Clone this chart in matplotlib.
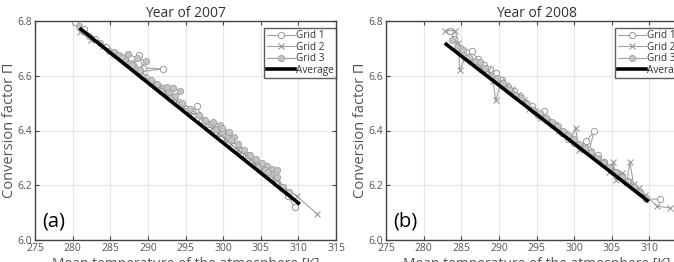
import matplotlib
matplotlib.use('Agg')
import matplotlib.pyplot as plt

plt.rcParams['font.family'] = ['Open Sans', 'DejaVu Sans']

# ---- data : 2007 ----
x07_g1 = [280.3, 281.5, 283.0, 284.5, 285.8, 286.5, 287.2, 288.0, 288.8, 289.4, 292.0, 289.0, 288.2, 289.8,
          290.6, 291.3, 292.2, 293.0, 294.1, 295.0, 295.8, 296.5, 297.2, 298.0, 298.8, 299.6, 300.5, 301.3,
          302.2, 303.0, 303.8, 304.6, 305.4, 306.2, 307.0, 307.8, 308.6, 309.5]
y07_g1 = [6.795, 6.77, 6.735, 6.705, 6.675, 6.665, 6.65, 6.64, 6.675, 6.628, 6.625, 6.615, 6.63, 6.59,
          6.575, 6.56, 6.545, 6.52, 6.505, 6.48, 6.47, 6.49, 6.44, 6.425, 6.405, 6.39, 6.37, 6.345,
          6.33, 6.31, 6.285, 6.27, 6.25, 6.235, 6.21, 6.19, 6.16, 6.12]
x07_g2 = [281.0, 282.5, 284.0, 285.5, 286.8, 287.8, 288.6, 289.5, 290.5, 291.5, 292.5, 293.5, 294.5, 295.5,
          296.5, 297.5, 298.5, 299.3, 300.2, 301.0, 302.0, 303.0, 304.0, 305.0, 306.0, 307.0, 308.0, 309.8, 312.5]
y07_g2 = [6.76, 6.73, 6.71, 6.68, 6.66, 6.645, 6.62, 6.60, 6.575, 6.56, 6.535, 6.515, 6.49, 6.47,
          6.455, 6.43, 6.41, 6.39, 6.37, 6.35, 6.33, 6.31, 6.285, 6.26, 6.24, 6.22, 6.195, 6.16, 6.095]
x07_g3 = [280.8, 282.2, 283.6, 284.8, 285.5, 286.2, 286.9, 287.6, 288.3, 289.0, 289.7, 288.5, 287.4, 286.6,
          287.9, 289.2, 290.4, 291.2, 292.0, 292.8, 293.6, 294.3, 293.4, 292.5, 291.7, 293.0, 294.6, 295.6,
          296.8, 297.6, 298.4, 299.1, 299.8, 300.6, 301.4, 300.8, 299.6, 298.7, 299.9, 301.0, 302.0, 302.8,
          303.6, 304.4, 305.1, 305.8, 306.5, 307.1, 306.3, 305.5, 304.7, 305.9, 307.2, 308.0, 308.8]
y07_g3 = [6.78, 6.745, 6.72, 6.69, 6.685, 6.675, 6.66, 6.645, 6.63, 6.62, 6.655, 6.665, 6.68, 6.67,
          6.64, 6.60, 6.585, 6.57, 6.555, 6.54, 6.525, 6.545, 6.555, 6.56, 6.545, 6.52, 6.50, 6.48,
          6.455, 6.44, 6.425, 6.405, 6.395, 6.38, 6.375, 6.395, 6.42, 6.43, 6.41, 6.365, 6.35, 6.33,
          6.31, 6.295, 6.28, 6.27, 6.26, 6.255, 6.24, 6.255, 6.265, 6.25, 6.23, 6.195, 6.175]
x07_avg = [281.1, 310.0]
y07_avg = [6.77, 6.135]

# ---- data : 2008 ----
x08_g1 = [283.5, 284.0, 284.8, 285.6, 286.4, 287.2, 288.0, 288.8, 289.6, 290.4, 291.2, 292.0, 292.8, 293.6,
          294.4, 295.2, 296.0, 296.8, 297.6, 298.4, 299.2, 300.0, 300.8, 301.6, 302.7, 302.0, 303.2, 304.0,
          304.8, 305.6, 306.4, 307.2, 308.0, 308.8, 309.6, 311.4]
y08_g1 = [6.765, 6.735, 6.70, 6.685, 6.69, 6.66, 6.64, 6.625, 6.61, 6.585, 6.56, 6.545, 6.525, 6.50,
          6.49, 6.455, 6.47, 6.43, 6.42, 6.39, 6.37, 6.355, 6.345, 6.36, 6.40, 6.33, 6.31, 6.285,
          6.265, 6.25, 6.235, 6.215, 6.195, 6.175, 6.15, 6.149]
x08_g2 = [282.8, 284.2, 284.6, 284.8, 285.5, 286.3, 287.0, 287.8, 288.5, 289.2, 289.6, 290.3, 291.0, 291.8,
          292.5, 293.3, 294.0, 294.8, 295.6, 296.4, 297.2, 298.0, 298.8, 299.6, 300.2, 300.6, 301.4, 302.2,
          303.0, 303.8, 304.6, 305.2, 305.6, 306.4, 307.0, 307.4, 307.9, 308.6, 309.4, 311.0, 312.7]
y08_g2 = [6.765, 6.765, 6.72, 6.62, 6.665, 6.655, 6.645, 6.625, 6.62, 6.58, 6.51, 6.58, 6.565, 6.55,
          6.53, 6.51, 6.48, 6.47, 6.445, 6.44, 6.42, 6.40, 6.39, 6.37, 6.41, 6.33, 6.34, 6.32,
          6.30, 6.28, 6.25, 6.285, 6.22, 6.245, 6.21, 6.285, 6.205, 6.19, 6.165, 6.124, 6.117]
x08_g3 = [283.8, 284.5, 285.2, 286.0, 286.8, 287.5, 288.2, 289.0, 289.8, 290.6, 291.4, 292.2, 293.0, 293.8,
          294.6, 295.4, 296.2, 297.0, 297.8, 298.5, 299.2, 300.0, 300.7, 301.5, 302.3, 303.1, 303.9, 304.7,
          305.5, 306.3, 307.1, 307.9, 308.7, 309.5]
y08_g3 = [6.73, 6.705, 6.695, 6.67, 6.655, 6.65, 6.63, 6.60, 6.59, 6.575, 6.55, 6.53, 6.52, 6.495,
          6.475, 6.465, 6.445, 6.43, 6.415, 6.40, 6.385, 6.37, 6.35, 6.335, 6.32, 6.30, 6.28, 6.265,
          6.25, 6.23, 6.215, 6.195, 6.175, 6.155]
x08_avg = [283.0, 309.7]
y08_avg = [6.715, 6.145]

panels = [
    ('Year of 2007', '(a)', (x07_g1, y07_g1), (x07_g2, y07_g2), (x07_g3, y07_g3), (x07_avg, y07_avg)),
    ('Year of 2008', '(b)', (x08_g1, y08_g1), (x08_g2, y08_g2), (x08_g3, y08_g3), (x08_avg, y08_avg)),
]

fig = plt.figure(figsize=(6.74, 2.62), dpi=100)
# second panel runs past the right edge, like the cropped original
lefts = [35 / 674, 386 / 674]
txtc = '#555555'

for left, (title, tag, g1, g2, g3, avg) in zip(lefts, panels):
    ax = fig.add_axes([left, 22 / 262, 301 / 674, 219 / 262])
    ax.plot(g1[0], g1[1], '-o', color='#a0a0a0', lw=0.8, ms=4.5, mfc='white', mec='#999999', mew=0.7, label='Grid 1')
    ax.plot(g2[0], g2[1], '-x', color='#a0a0a0', lw=0.8, ms=4.5, mec='#999999', mew=0.8, label='Grid 2')
    ax.plot(g3[0], g3[1], '-o', color='#a0a0a0', lw=0.8, ms=4.5, mfc='#c4c4c4', mec='#a0a0a0', mew=0.6, label='Grid 3')
    ax.plot(avg[0], avg[1], '-', color='black', lw=2.6, label='Average')

    ax.set_xlim(275, 315)
    ax.set_ylim(6.0, 6.8)
    ax.set_xticks(range(275, 316, 5))
    ax.set_yticks([6.0, 6.2, 6.4, 6.6, 6.8])
    ax.set_yticklabels(['6.0', '6.2', '6.4', '6.6', '6.8'])
    ax.grid(True, color='#e6e6e6', lw=0.8)
    ax.set_axisbelow(True)
    ax.tick_params(direction='in', top=True, right=True, labelsize=7.5, colors='#444444',
                   labelcolor=txtc, length=3, pad=2)
    for s in ax.spines.values():
        s.set_color('#444444')
        s.set_linewidth(1.0)

    ax.set_title(title, fontsize=10, color='#333333', pad=3)
    ax.set_ylabel('Conversion factor \u03a0', fontsize=10.5, color=txtc, labelpad=0)
    ax.set_xlabel('Mean temperature of the atmosphere [K]', fontsize=10, color=txtc, labelpad=2)
    ax.text(0.025, 0.06, tag, transform=ax.transAxes, fontsize=14.5, color='black')

    leg = ax.legend(loc='upper right', bbox_to_anchor=(1.0, 0.97), fontsize=7.2, handlelength=2.8,
                    handletextpad=0.1, labelspacing=0.05, borderpad=0.25, borderaxespad=0.0, fancybox=False)
    leg.get_frame().set_edgecolor('#333333')
    leg.get_frame().set_linewidth(1.0)
    for t in leg.get_texts():
        t.set_color('#333333')

fig.savefig('out.png', dpi=100)
